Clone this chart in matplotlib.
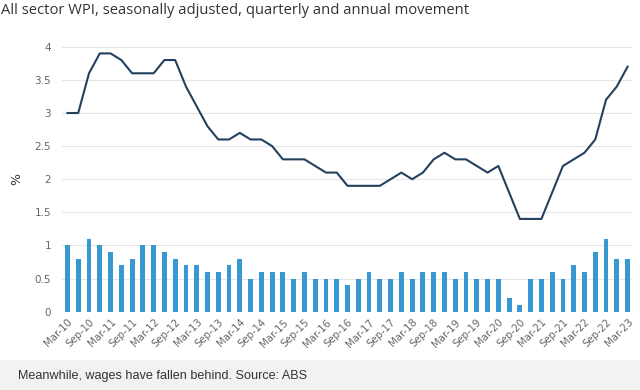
import numpy as np
import matplotlib.pyplot as plt
from matplotlib.patches import Rectangle

quarters = []
for yr in range(10, 24):
	for m in ['Mar', 'Jun', 'Sep', 'Dec']:
		quarters.append(f'{m}-{yr}')
quarters = quarters[:53]  # Mar-10 .. Mar-23

# annual movement (%)
annual = [3.0, 3.0, 3.6, 3.9, 3.9, 3.8, 3.6, 3.6, 3.6, 3.8, 3.8, 3.4, 3.1,
	2.8, 2.6, 2.6, 2.7, 2.6, 2.6, 2.5, 2.3, 2.3, 2.3, 2.2, 2.1, 2.1,
	1.9, 1.9, 1.9, 1.9, 2.0, 2.1, 2.0, 2.1, 2.3, 2.4, 2.3, 2.3, 2.2,
	2.1, 2.2, 1.8, 1.4, 1.4, 1.4, 1.8, 2.2, 2.3, 2.4, 2.6, 3.2, 3.4, 3.7]

# quarterly movement (%)
quarterly = [1.0, 0.8, 1.1, 1.0, 0.9, 0.7, 0.8, 1.0, 1.0, 0.9, 0.8, 0.7, 0.7,
	0.6, 0.6, 0.7, 0.8, 0.5, 0.6, 0.6, 0.6, 0.5, 0.6, 0.5, 0.5, 0.5,
	0.4, 0.5, 0.6, 0.5, 0.5, 0.6, 0.5, 0.6, 0.6, 0.6, 0.5, 0.6, 0.5,
	0.5, 0.5, 0.2, 0.1, 0.5, 0.5, 0.6, 0.5, 0.7, 0.6, 0.9, 1.1, 0.8, 0.8]

x = np.arange(len(quarters))

fig = plt.figure(figsize=(6.4, 3.9), dpi=100)
ax = fig.add_axes([0.097, 0.201, 0.892, 0.679])

ax.bar(x, quarterly, width=0.45, color='#3898d2', zorder=2)
ax.plot(x, annual, color='#24405f', linewidth=1.5, zorder=3)

ax.set_xlim(-0.5, 52.5)
ax.set_ylim(0, 4)
ax.set_yticks(np.arange(0, 4.01, 0.5))
ax.set_yticklabels(['0', '0.5', '1', '1.5', '2', '2.5', '3', '3.5', '4'])
ax.grid(axis='y', color='#e6e6e6', linewidth=0.8, zorder=0)
for s in ax.spines.values():
	s.set_visible(False)
ax.tick_params(axis='y', length=0, labelsize=7.5, labelcolor='#666666', pad=8)
ax.set_xticks(x[::2])
ax.set_xticklabels(quarters[::2], rotation=45, ha='right', rotation_mode='anchor',
	fontsize=7.3, color='#666666')
ax.tick_params(axis='x', length=0, pad=4)
ax.set_ylabel('%', fontsize=9, color='#333333', labelpad=8)

fig.text(0.002, 0.972, 'All sector WPI, seasonally adjusted, quarterly and annual movement',
	fontsize=10.6, color='#333333', family='Open Sans', va='center', ha='left')

fig.patches.append(Rectangle((0, 0), 1, 30 / 390, transform=fig.transFigure,
	facecolor='#f2f2f2', edgecolor='none', zorder=0))
fig.text(18 / 640, 14 / 390, 'Meanwhile, wages have fallen behind. Source: ABS',
	fontsize=9.1, color='#333333', family='Liberation Sans', va='center', ha='left')

fig.savefig('out.png', dpi=100)
